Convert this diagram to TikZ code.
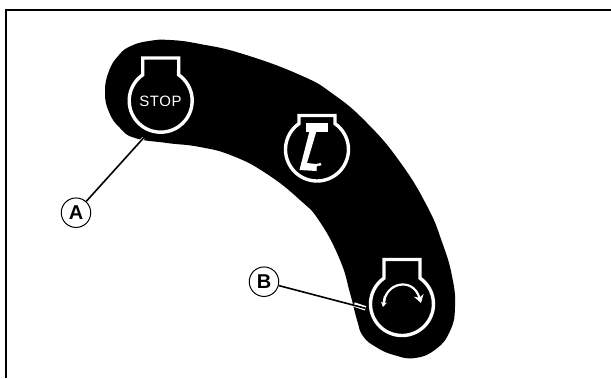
\documentclass[tikz,border=0pt]{standalone}
\usepackage{fontspec}
\setmainfont{Liberation Sans}
\usetikzlibrary{arrows.meta}
\tikzset{
  frameline/.style={line width=2pt,black},
  blobshape/.style={fill=black,draw=none},
  keyring/.style={draw=white,line width=3.4pt,line join=miter,fill=black},
  callout/.style={circle,draw=black,line width=1pt,fill=white,minimum size=29.5pt,inner sep=0pt,font=\fontsize{20}{20}\selectfont\bfseries},
  leader/.style={line width=1.6pt,black},
  halo/.style={line width=4.5pt,white},
  turnarrow/.style={draw=white,line width=2.2pt}
}
\newcommand\keyshape[3]{%
  \draw[keyring] (#1-18,#3) -- (#1-18,#2-25.85)
    arc[start angle=235.15,end angle=-55.15,radius=31.5] -- (#1+18,#3) -- cycle;}
\begin{document}
\begin{tikzpicture}[x=1pt,y=-1pt]
\useasboundingbox (0,0) rectangle (611,378);
\fill[white] (0,0) rectangle (611,378);
\draw[frameline] (6,378) -- (6,10) -- (611,10);
% curved band
\fill[blobshape] plot[smooth cycle,tension=0.8] coordinates {
  (105,92) (109,71) (119,55) (131,46) (149,41) (170,40) (200,44) (243,54) (300,75) (333,94)
  (367,123) (400,162) (427,206) (442,242) (452,276) (455,307) (450,331) (436,349)
  (415,358) (394,355) (376,347) (363,336) (357,320) (350,293) (340,260) (320,222) (300,200)
  (267,174) (233,156) (200,147) (167,143) (135,138) (120,128) (109,112)};
% symbols
\keyshape{160.7}{100.7}{58}
\keyshape{317}{149.5}{115.5}
\keyshape{402}{304}{259.5}
% STOP
\node[text=white,inner sep=0pt,font=\fontsize{15}{15}\selectfont\addfontfeature{LetterSpace=4}] (stoptext) at (160.5,101.5) {STOP};
% piston
\fill[white] (306,123) rectangle (328,132);
\fill[white] (309.5,131) -- (316.5,131) -- (307,163) -- (316,164) -- (320.5,163) -- (321.5,165) -- (317,167)
  -- (316.5,171) -- (299.5,170) -- cycle;
\fill[black] (318.8,168) circle[radius=2.3];
% rotation arrow
\draw[turnarrow,-{Stealth[length=8pt,width=10pt]}] (384,303) .. controls (385,283) and (413,276) .. (421,303);
\draw[turnarrow,-{Stealth[length=5pt,width=6pt]}] (385,296) -- (383,307);
% callouts
\node[callout] (A) at (76,212.7) {A};
\node[callout] (B) at (264,281.7) {B};
\coordinate (aend) at (143.5,138);
\coordinate (bend) at (365.5,308.3);
\coordinate (bblack) at (354,304.5);
\draw[halo] (bblack) -- (bend);
\draw[halo,line width=3pt] (140.5,141.5) -- (aend);
\draw[leader] (A) -- (aend);
\draw[leader] (B) -- (bend);
\end{tikzpicture}
\end{document}
